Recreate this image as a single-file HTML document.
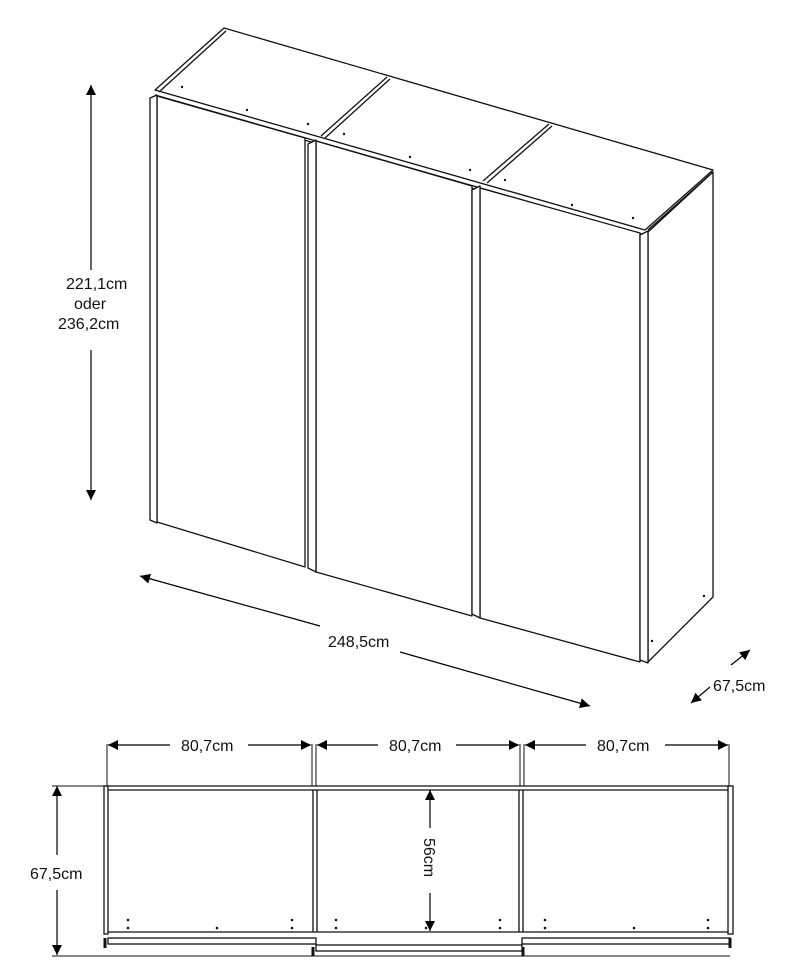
<!DOCTYPE html>
<html><head><meta charset="utf-8"><style>
html,body{margin:0;padding:0;background:#fff;}
svg{display:block}
text{font-family:"Liberation Sans","DejaVu Sans",sans-serif;font-size:16px;fill:#111}
</style></head><body>
<svg width="796" height="980" viewBox="0 0 796 980" xmlns="http://www.w3.org/2000/svg">
<defs>
<marker id="b" viewBox="0 0 10 10" refX="10" refY="5" markerWidth="20" markerHeight="10" orient="auto-start-reverse" markerUnits="userSpaceOnUse"><path d="M0,0L10,5L0,10z" fill="#000"/></marker>
</defs>
<g fill="none" stroke="#111" stroke-width="1.3" stroke-linejoin="round">
<polygon points="155,90 224,28 713,170 645,230" fill="#fff"/>
<line x1="159" y1="92" x2="226" y2="31"/>
<line x1="321" y1="136" x2="387" y2="77"/><line x1="325" y1="138" x2="390" y2="79"/>
<line x1="483" y1="181" x2="549" y2="124"/><line x1="487" y1="183" x2="552" y2="126"/>
<line x1="648" y1="230" x2="713" y2="172"/>
<line x1="155" y1="95" x2="645" y2="235"/>
<line x1="158" y1="98" x2="645" y2="238"/>
<polygon points="648,232 713,172 713,597 648,662" fill="#fff"/>
<polygon points="157,96 305,138 305,567 157,522" fill="#fff"/>
<polygon points="150,98 157,95 157,523 150,520" fill="#fff"/>
<polygon points="316,141 472,186 472,616 316,572" fill="#fff"/>
<polygon points="308,144 316,140 316,572 308,568" fill="#fff"/>
<polygon points="480,188 640,233 640,662 480,618" fill="#fff"/>
<polygon points="472,190 480,186 480,618 472,614" fill="#fff"/>
<polygon points="640,235 648,231 648,663 640,660" fill="#fff"/>
</g>
<g fill="#111">
<circle cx="182" cy="87" r="1.2"/><circle cx="247" cy="110" r="1.2"/><circle cx="308" cy="124" r="1.2"/>
<circle cx="344" cy="134" r="1.2"/><circle cx="410" cy="157" r="1.2"/><circle cx="470" cy="170" r="1.2"/>
<circle cx="505" cy="180" r="1.2"/><circle cx="572" cy="205" r="1.2"/><circle cx="633" cy="218" r="1.2"/>
<circle cx="704" cy="596" r="1.2"/><circle cx="652" cy="641" r="1.2"/>
</g>
<g stroke="#000" stroke-width="1.2" fill="none">
<line x1="91" y1="270" x2="91" y2="85" marker-end="url(#b)"/>
<line x1="91" y1="350" x2="91" y2="500" marker-end="url(#b)"/>
<line x1="320" y1="626" x2="140" y2="576" marker-end="url(#b)"/>
<line x1="400" y1="652" x2="590" y2="706" marker-end="url(#b)"/>
<line x1="731" y1="665" x2="750" y2="650" marker-end="url(#b)"/>
<line x1="710" y1="687" x2="691" y2="703" marker-end="url(#b)"/>
</g>
<text x="66" y="289">221,1cm</text>
<text x="74" y="309">oder</text>
<text x="58" y="329">236,2cm</text>
<text x="328" y="647">248,5cm</text>
<text x="713" y="691">67,5cm</text>
<g fill="none" stroke="#111" stroke-width="1.3">
<line x1="107" y1="786" x2="730" y2="786"/>
<line x1="107" y1="790" x2="730" y2="790"/>
<rect x="104" y="786" width="4" height="148" fill="#fff"/>
<rect x="728" y="786" width="5" height="148" fill="#fff"/>
<line x1="313" y1="790" x2="313" y2="932"/><line x1="317" y1="790" x2="317" y2="932"/>
<line x1="519" y1="790" x2="519" y2="932"/><line x1="523" y1="790" x2="523" y2="932"/>
<line x1="108" y1="932" x2="728" y2="932"/>
<rect x="108" y="938" width="208" height="6"/>
<rect x="316" y="945" width="206" height="6"/>
<rect x="522" y="938" width="208" height="6"/>
<line x1="105" y1="938" x2="105" y2="948" stroke-width="3"/>
<line x1="313" y1="947" x2="313" y2="956" stroke-width="3"/>
<line x1="523" y1="947" x2="523" y2="956" stroke-width="3"/>
<line x1="730" y1="938" x2="730" y2="948" stroke-width="3"/>
<line x1="107" y1="744" x2="107" y2="786" stroke-width="1"/>
<line x1="312" y1="744" x2="312" y2="786" stroke-width="1"/>
<line x1="316" y1="744" x2="316" y2="786" stroke-width="1"/>
<line x1="520" y1="744" x2="520" y2="786" stroke-width="1"/>
<line x1="524" y1="744" x2="524" y2="786" stroke-width="1"/>
<line x1="729" y1="744" x2="729" y2="786" stroke-width="1"/>
<line x1="52" y1="786" x2="104" y2="786" stroke-width="1"/>
<line x1="52" y1="956" x2="730" y2="956" stroke-width="1"/>
</g>
<g fill="#111">
<circle cx="128" cy="920" r="1.3"/><circle cx="128" cy="928" r="1.3"/><circle cx="217" cy="928" r="1.3"/><circle cx="292" cy="920" r="1.3"/><circle cx="292" cy="928" r="1.3"/>
<circle cx="336" cy="920" r="1.3"/><circle cx="336" cy="928" r="1.3"/><circle cx="426" cy="928" r="1.3"/><circle cx="500" cy="920" r="1.3"/><circle cx="500" cy="928" r="1.3"/>
<circle cx="545" cy="920" r="1.3"/><circle cx="545" cy="928" r="1.3"/><circle cx="634" cy="928" r="1.3"/><circle cx="708" cy="920" r="1.3"/><circle cx="708" cy="928" r="1.3"/>
</g>
<g stroke="#000" stroke-width="1.2" fill="none">
<line x1="170" y1="745" x2="108" y2="745" marker-end="url(#b)"/>
<line x1="248" y1="745" x2="311" y2="745" marker-end="url(#b)"/>
<line x1="378" y1="745" x2="317" y2="745" marker-end="url(#b)"/>
<line x1="456" y1="745" x2="519" y2="745" marker-end="url(#b)"/>
<line x1="586" y1="745" x2="525" y2="745" marker-end="url(#b)"/>
<line x1="665" y1="745" x2="728" y2="745" marker-end="url(#b)"/>
<line x1="57" y1="855" x2="57" y2="786" marker-end="url(#b)"/>
<line x1="57" y1="890" x2="57" y2="955" marker-end="url(#b)"/>
<line x1="430" y1="828" x2="430" y2="790" marker-end="url(#b)"/>
<line x1="430" y1="893" x2="430" y2="931" marker-end="url(#b)"/>
</g>
<text x="181" y="751">80,7cm</text>
<text x="389" y="751">80,7cm</text>
<text x="597" y="751">80,7cm</text>
<text x="30" y="879">67,5cm</text>
<text transform="translate(424,838) rotate(90)">56cm</text>
</svg>
</body></html>
